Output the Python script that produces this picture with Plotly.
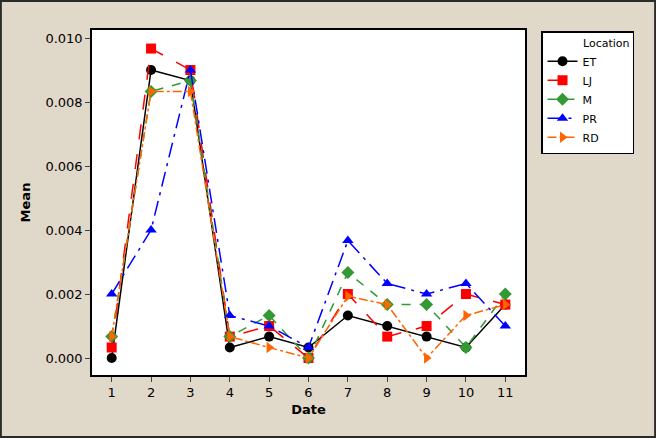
import plotly.graph_objects as go

dates = [1, 2, 3, 4, 5, 6, 7, 8, 9, 10, 11]
et = [0.0, 0.009, 0.00867, 0.00033, 0.00067, 0.00033, 0.00133, 0.001, 0.00067, 0.00033, 0.00167]
lj = [0.00033, 0.00967, 0.009, 0.00067, 0.001, 0.0, 0.002, 0.00067, 0.001, 0.002, 0.00167]
m = [0.00067, 0.00833, 0.00867, 0.00067, 0.00133, 0.0, 0.00267, 0.00167, 0.00167, 0.00033, 0.002]
pr = [0.002, 0.004, 0.009, 0.00133, 0.001, 0.00033, 0.00367, 0.00233, 0.002, 0.00233, 0.001]
rd = [0.00067, 0.00833, 0.00833, 0.00067, 0.00033, 0.0, 0.00193, 0.00167, 0.0, 0.00133, 0.00167]
y_ticks = [0.0, 0.002, 0.004, 0.006, 0.008, 0.010]
y_labels = ["0.000", "0.002", "0.004", "0.006", "0.008", "0.010"]

series = [
    ("ET", et, "black", "solid", "circle"),
    ("LJ", lj, "#FF0000", "longdash", "square"),
    ("M", m, "#339933", "dash", "diamond"),
    ("PR", pr, "#0000FF", "longdashdot", "triangle-up"),
    ("RD", rd, "#FF6600", "dashdot", "triangle-right"),
]

fig = go.Figure()
for name, vals, color, dash, sym in series:
    fig.add_trace(go.Scatter(
        x=dates, y=vals, name=name, mode="lines+markers",
        line=dict(color=color, width=1.5, dash=dash),
        marker=dict(symbol=sym, size=10, color=color),
    ))

fig.update_layout(
    width=656, height=438,
    margin=dict(l=92, r=131, t=30, b=63),
    paper_bgcolor="#E0D8C8",
    plot_bgcolor="white",
    font=dict(family="DejaVu Sans", size=12, color="black"),
    showlegend=True,
    legend=dict(
        x=1.037, y=0.997, xanchor="left", yanchor="top",
        bgcolor="white", bordercolor="black", borderwidth=1.5,
        font=dict(size=11),
        title=dict(text="           Location", side="top", font=dict(size=11)),
        tracegroupgap=0, entrywidth=58,
    ),
    shapes=[dict(type="rect", xref="paper", yref="paper",
                 x0=-92/433 + 0.002, x1=(656-92)/433 - 0.002,
                 y0=-63/345 + 0.003, y1=(438-63)/345 - 0.003,
                 line=dict(color="#2a2a2a", width=2), layer="below")],
)
fig.update_xaxes(
    range=[0.5, 11.5], tickvals=dates, ticks="outside", ticklen=5,
    showgrid=False, zeroline=False, showline=True, linecolor="black",
    linewidth=1.5, mirror=True,
    title=dict(text="<b>Date</b>", standoff=6, font=dict(size=13)),
    tickfont=dict(size=13),
)
fig.update_yaxes(
    range=[-0.00053, 0.01025], tickvals=y_ticks, ticktext=y_labels,
    ticks="outside", ticklen=5,
    showgrid=False, zeroline=False, showline=True, linecolor="black",
    linewidth=1.5, mirror=True,
    title=dict(text="<b>Mean</b>", standoff=12, font=dict(size=13)),
    tickfont=dict(size=13),
)
fig.write_html("out.html", config={"displayModeBar": False},
               post_script="document.body.style.margin='0';")
